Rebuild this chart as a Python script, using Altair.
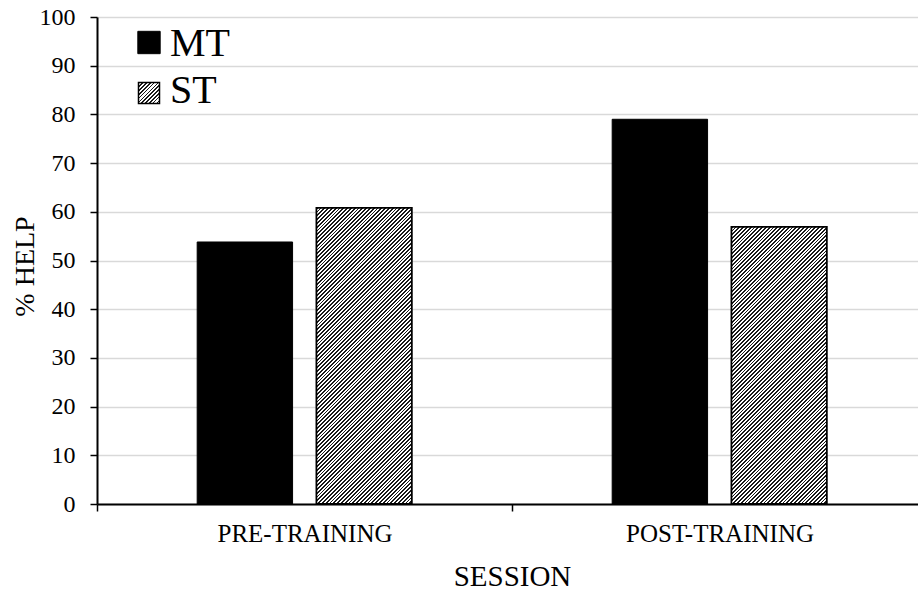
import altair as alt
import pandas as pd

# ---- data ----
sessions = ["PRE-TRAINING", "POST-TRAINING"]
series = ["MT", "ST"]
mt_values = [53.8, 79.0]
st_values = [60.8, 56.9]
y_ticks = [0, 10, 20, 30, 40, 50, 60, 70, 80, 90, 100]

rows = []
for i, s in enumerate(sessions):
    rows.append({"session": s, "series": "MT", "value": mt_values[i]})
    rows.append({"session": s, "series": "ST", "value": st_values[i]})
df = pd.DataFrame(rows)
legend_df = pd.DataFrame({"series": series})

FONT = "Liberation Serif"
PLOT_W, PLOT_H = 821, 487
PX_PER_UNIT = PLOT_H / 100.0
BAR_W = 95.4


def hatch(w, h, period=3.8, dark=0.45):
    """Diagonal '/' hatching as a linear gradient in the bar's bounding box."""
    c = (w + h) / (w * w + h * h)
    n = (w + h) / period
    stops = []
    k = 0
    while k < n:
        o0 = k / n
        o1 = min((k + dark) / n, 1.0)
        o2 = min((k + 1) / n, 1.0)
        stops += [
            alt.GradientStop(offset=o0, color="#1a1a1a"),
            alt.GradientStop(offset=o1, color="#1a1a1a"),
            alt.GradientStop(offset=o1, color="white"),
            alt.GradientStop(offset=o2, color="white"),
        ]
        k += 1
    return alt.LinearGradient(gradient="linear", stops=stops, x1=0, y1=0, x2=w * c, y2=h * c)


x_enc = alt.X(
    "session:N",
    sort=sessions,
    scale=alt.Scale(domain=sessions, range=[0, 830], paddingInner=0, paddingOuter=0),
    axis=alt.Axis(
        title="SESSION",
        labelAngle=0,
        labelLimit=0,
        tickBand="extent",
        labelFont=FONT,
        labelFontSize=25,
        labelColor="black",
        labelPadding=10,
        tickColor="black",
        tickSize=7,
        tickWidth=1.5,
        domainColor="black",
        domainWidth=2,
        grid=False,
        titleFont=FONT,
        titleFontSize=29,
        titleFontWeight="normal",
        titleColor="black",
        titleBaseline="alphabetic",
        titleY=81,
    ),
)
xo_enc = alt.XOffset(
    "series:N",
    sort=series,
    scale=alt.Scale(domain=series, paddingInner=0.2, paddingOuter=0.84),
)
y_enc = alt.Y(
    "value:Q",
    scale=alt.Scale(domain=[0, 100], nice=False),
    axis=alt.Axis(
        values=y_ticks,
        title="% HELP",
        labelFont=FONT,
        labelFontSize=24,
        labelColor="black",
        labelPadding=15,
        tickColor="black",
        tickSize=7,
        tickWidth=1.5,
        domainColor="black",
        domainWidth=2,
        gridColor="#d9d9d9",
        gridWidth=1.5,
        titleFont=FONT,
        titleFontSize=28,
        titleFontWeight="normal",
        titleColor="black",
        titleAngle=270,
        titleBaseline="alphabetic",
        titleX=-64,
        titleY=249,
    ),
)

base = alt.Chart(df).encode(x=x_enc, xOffset=xo_enc, y=y_enc)

mt_bars = base.transform_filter(alt.datum.series == "MT").mark_bar(
    fill="black", stroke="black", strokeWidth=1
)

st_layers = []
for i, s in enumerate(sessions):
    grad = hatch(BAR_W, st_values[i] * PX_PER_UNIT)
    st_layers.append(
        base.transform_filter((alt.datum.series == "ST") & (alt.datum.session == s)).mark_bar(
            fill=grad, stroke="black", strokeWidth=1.8
        )
    )

# ---- legend (top-left, inside the plot) ----
leg = alt.Chart(legend_df)

leg_mt = leg.transform_filter(alt.datum.series == series[0]).mark_square(
    size=500, fill="black", opacity=1, stroke="black", strokeWidth=1
).encode(x=alt.value(52), y=alt.value(25.5))

leg_st = leg.transform_filter(alt.datum.series == series[1]).mark_square(
    size=441, fill=hatch(21, 21), opacity=1, stroke="black", strokeWidth=1.5
).encode(x=alt.value(52), y=alt.value(76))

txt_mark = dict(font=FONT, fontSize=40, align="left", baseline="alphabetic", color="black")
leg_txt_mt = leg.transform_filter(alt.datum.series == series[0]).mark_text(**txt_mark).encode(
    x=alt.value(73), y=alt.value(39), text="series:N"
)
leg_txt_st = leg.transform_filter(alt.datum.series == series[1]).mark_text(**txt_mark).encode(
    x=alt.value(73), y=alt.value(86), text="series:N"
)

chart = (
    alt.layer(mt_bars, *st_layers, leg_mt, leg_st, leg_txt_mt, leg_txt_st)
    .properties(
        width=PLOT_W,
        height=PLOT_H,
        autosize=alt.AutoSizeParams(type="none"),
        padding={"left": 97, "top": 17, "right": 0, "bottom": 90},
        background="white",
    )
    .configure_view(stroke=None)
)

chart.save("out.html", embed_options={"renderer": "svg", "actions": False})
